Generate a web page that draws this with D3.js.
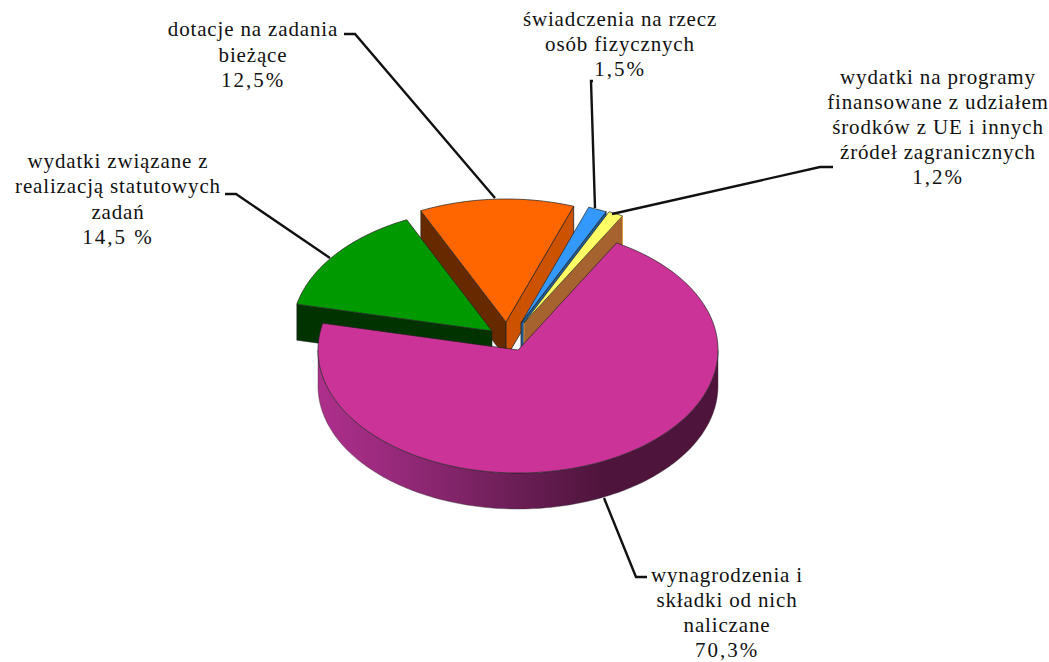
<!DOCTYPE html>
<html lang="pl">
<head>
    <meta charset="UTF-8">
    <title>Struktura wydatków</title>
    <script src="https://d3js.org/d3.v7.min.js"></script>
    <style>
        html, body { margin: 0; padding: 0; background: #fff; }
        svg { display: block; }
        .label text { font-family: "Liberation Serif", serif; font-size: 21px; fill: #111; text-anchor: middle; letter-spacing: 0.85px; }
        .label text.pct { letter-spacing: 2px; }
        .leader { fill: none; stroke: #111; stroke-width: 2.4px; }
        .top { stroke: #222; stroke-width: 0.7px; }
    </style>
</head>
<body>
    <div id="chart"></div>

    <script>
        // Data, clockwise starting with the big slice
        const categories = ["wynagrodzenia i składki od nich naliczane", "wydatki związane z realizacją statutowych zadań",
            "dotacje na zadania bieżące", "świadczenia na rzecz osób fizycznych",
            "wydatki na programy finansowane z udziałem środków z UE i innych źródeł zagranicznych"];
        const shares = [70.3, 14.5, 12.5, 1.5, 1.2];

        const labelLines = [
            ["wynagrodzenia i", "składki od nich", "naliczane", "70,3%"],
            ["wydatki związane z", "realizacją statutowych", "zadań", "14,5 %"],
            ["dotacje na zadania", "bieżące", "12,5%"],
            ["świadczenia na rzecz", "osób fizycznych", "1,5%"],
            ["wydatki na programy", "finansowane z udziałem", "środków z UE i innych", "źródeł zagranicznych", "1,2%"]
        ];

        const topColors = ["#CC3399", "#009900", "#FF6600", "#3399FF", "#FFFF66"];
        const startWallColors = [null, "#003300", "#662900", null, null];
        const endWallColors = [null, null, "#CC5200", "#1F5C99", "#A6622F"];
        const endWallStrokes = [null, null, "#222", "#222", "#D99A2B"];

        // Layout of the tilted pie
        const width = 1049, height = 662;
        const cx = 518, cy = 350, rx = 200, ry = 123, depth = 36;
        const firstAngle = 29.5 * Math.PI / 180;
        // how far each slice is pulled out of the pie
        const explode = [[0, 0], [-26, -19], [-12, -28], [3, -27], [6, -27]];
        // back to front
        const drawOrder = [2, 3, 4, 1, 0];

        const labelBoxes = [
            {x: 727, y: 582, dy: 25}, {x: 118, y: 168, dy: 25.3},
            {x: 253, y: 36, dy: 25.5}, {x: 620, y: 26, dy: 25},
            {x: 938, y: 84, dy: 25}
        ];
        const leaders = [
            [[647, 577], [636, 577], [604, 498]],
            [[225, 194], [236, 194], [330, 258]],
            [[344, 34], [355, 34], [495, 198]],
            [[593, 81], [591, 81], [595, 208]],
            [[833, 167], [820, 167], [612, 214]]
        ];

        const svg = d3.select("#chart").append("svg")
            .attr("width", width)
            .attr("height", height);

        // Side of the big slice, dark on the right
        const grad = svg.append("defs").append("linearGradient")
            .attr("id", "sideGrad")
            .attr("gradientUnits", "userSpaceOnUse")
            .attr("x1", cx - rx).attr("x2", cx + rx)
            .attr("y1", 0).attr("y2", 0);
        [[0, "#AE2F8C"], [0.2, "#96297A"], [0.5, "#6A1E55"], [0.72, "#4E143B"], [1, "#4E143B"]].forEach(s => {
            grad.append("stop").attr("offset", s[0]).attr("stop-color", s[1]);
        });

        const slices = d3.pie().sort(null).startAngle(firstAngle).endAngle(firstAngle + 2 * Math.PI)(shares);
        const line = d3.line();

        // Point on the rim of slice i, h pixels below the top face
        function rim(i, angle, h) {
            return [cx + explode[i][0] + rx * Math.sin(angle), cy + explode[i][1] - ry * Math.cos(angle) + h];
        }
        function apex(i, h) {
            return [cx + explode[i][0], cy + explode[i][1] + h];
        }
        function arcPoints(i, a0, a1, h) {
            const n = Math.max(2, Math.ceil(Math.abs(a1 - a0) / 0.02));
            return d3.range(n + 1).map(k => rim(i, a0 + (a1 - a0) * k / n, h));
        }
        function wall(i, angle) {
            return [apex(i, 0), rim(i, angle, 0), rim(i, angle, depth), apex(i, depth)];
        }

        const pie = svg.append("g");

        drawOrder.forEach(i => {
            const s = slices[i];

            if (startWallColors[i]) {
                pie.append("path")
                    .attr("d", line(wall(i, s.startAngle)) + "Z")
                    .attr("fill", startWallColors[i])
                    .attr("stroke", "#222").attr("stroke-width", 0.5);
            }
            if (endWallColors[i]) {
                pie.append("path")
                    .attr("d", line(wall(i, s.endAngle)) + "Z")
                    .attr("fill", endWallColors[i])
                    .attr("stroke", endWallStrokes[i]).attr("stroke-width", 0.8);
            }

            // outer side, only the part that faces the viewer
            const a0 = Math.max(s.startAngle, Math.PI / 2);
            const a1 = Math.min(s.endAngle, 3 * Math.PI / 2);
            if (a1 > a0) {
                pie.append("path")
                    .attr("d", line(arcPoints(i, a0, a1, 0).concat(arcPoints(i, a1, a0, depth))) + "Z")
                    .attr("fill", "url(#sideGrad)")
                    .attr("stroke", "#333").attr("stroke-width", 0.4);
            }

            pie.append("path")
                .attr("class", "top")
                .attr("d", line([apex(i, 0)].concat(arcPoints(i, s.startAngle, s.endAngle, 0))) + "Z")
                .attr("fill", topColors[i])
                .append("title").text(categories[i] + ": " + shares[i] + "%");
        });

        svg.append("g").selectAll("path")
            .data(leaders)
            .join("path")
            .attr("class", "leader")
            .attr("d", d => line(d));

        const labels = svg.append("g").attr("class", "label");
        labelLines.forEach((lines, i) => {
            labels.selectAll(null)
                .data(lines)
                .join("text")
                .attr("class", d => d.includes("%") ? "pct" : null)
                .attr("x", labelBoxes[i].x)
                .attr("y", (d, k) => labelBoxes[i].y + k * labelBoxes[i].dy)
                .text(d => d);
        });
    </script>
</body>
</html>
